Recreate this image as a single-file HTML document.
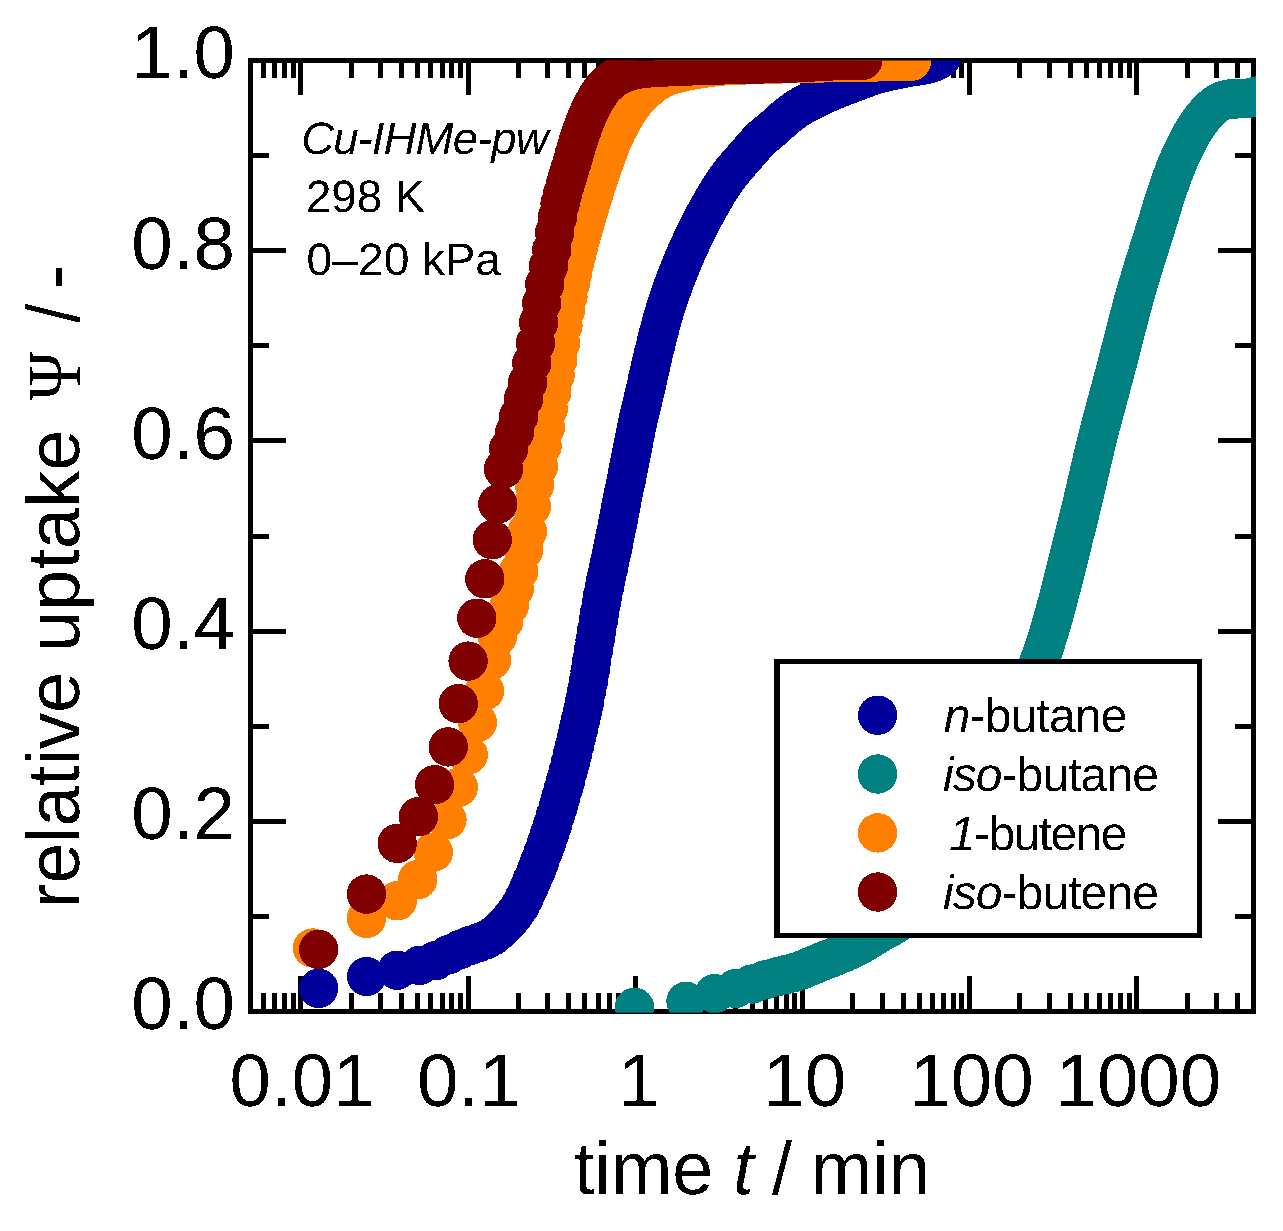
<!DOCTYPE html>
<html lang="en"><head><meta charset="utf-8"><title>Relative uptake vs time</title>
<style>html,body{margin:0;padding:0;background:#fff}svg{display:block}</style></head>
<body>
<svg width="1283" height="1231" viewBox="0 0 1283 1231" font-family="'Liberation Sans',Arial,sans-serif" fill="#000" shape-rendering="crispEdges" text-rendering="geometricPrecision">
<rect x="0" y="0" width="1283" height="1231" fill="#fff"/>
<rect x="250.50" y="60.50" width="1003.10" height="951.00" fill="none" stroke="#000" stroke-width="5.0"/>
<path d="M263.74,1011.50v-18.50 M263.74,60.50v17.30 M274.93,1011.50v-18.50 M274.93,60.50v17.30 M284.63,1011.50v-18.50 M284.63,60.50v17.30 M293.18,1011.50v-18.50 M293.18,60.50v17.30 M300.83,1011.50v-35.50 M300.83,60.50v34.40 M351.15,1011.50v-18.50 M351.15,60.50v17.30 M380.59,1011.50v-18.50 M380.59,60.50v17.30 M401.48,1011.50v-18.50 M401.48,60.50v17.30 M417.68,1011.50v-18.50 M417.68,60.50v17.30 M430.92,1011.50v-18.50 M430.92,60.50v17.30 M442.11,1011.50v-18.50 M442.11,60.50v17.30 M451.81,1011.50v-18.50 M451.81,60.50v17.30 M460.36,1011.50v-18.50 M460.36,60.50v17.30 M468.01,1011.50v-35.50 M468.01,60.50v34.40 M518.34,1011.50v-18.50 M518.34,60.50v17.30 M547.78,1011.50v-18.50 M547.78,60.50v17.30 M568.66,1011.50v-18.50 M568.66,60.50v17.30 M584.87,1011.50v-18.50 M584.87,60.50v17.30 M598.10,1011.50v-18.50 M598.10,60.50v17.30 M609.30,1011.50v-18.50 M609.30,60.50v17.30 M618.99,1011.50v-18.50 M618.99,60.50v17.30 M627.54,1011.50v-18.50 M627.54,60.50v17.30 M635.19,1011.50v-35.50 M635.19,60.50v34.40 M685.52,1011.50v-18.50 M685.52,60.50v17.30 M714.96,1011.50v-18.50 M714.96,60.50v17.30 M735.85,1011.50v-18.50 M735.85,60.50v17.30 M752.05,1011.50v-18.50 M752.05,60.50v17.30 M765.29,1011.50v-18.50 M765.29,60.50v17.30 M776.48,1011.50v-18.50 M776.48,60.50v17.30 M786.18,1011.50v-18.50 M786.18,60.50v17.30 M794.73,1011.50v-18.50 M794.73,60.50v17.30 M802.38,1011.50v-35.50 M802.38,60.50v34.40 M852.70,1011.50v-18.50 M852.70,60.50v17.30 M882.14,1011.50v-18.50 M882.14,60.50v17.30 M903.03,1011.50v-18.50 M903.03,60.50v17.30 M919.23,1011.50v-18.50 M919.23,60.50v17.30 M932.47,1011.50v-18.50 M932.47,60.50v17.30 M943.66,1011.50v-18.50 M943.66,60.50v17.30 M953.36,1011.50v-18.50 M953.36,60.50v17.30 M961.91,1011.50v-18.50 M961.91,60.50v17.30 M969.56,1011.50v-35.50 M969.56,60.50v34.40 M1019.89,1011.50v-18.50 M1019.89,60.50v17.30 M1049.33,1011.50v-18.50 M1049.33,60.50v17.30 M1070.21,1011.50v-18.50 M1070.21,60.50v17.30 M1086.42,1011.50v-18.50 M1086.42,60.50v17.30 M1099.65,1011.50v-18.50 M1099.65,60.50v17.30 M1110.85,1011.50v-18.50 M1110.85,60.50v17.30 M1120.54,1011.50v-18.50 M1120.54,60.50v17.30 M1129.09,1011.50v-18.50 M1129.09,60.50v17.30 M1136.74,1011.50v-35.50 M1136.74,60.50v34.40 M1187.07,1011.50v-18.50 M1187.07,60.50v17.30 M1216.51,1011.50v-18.50 M1216.51,60.50v17.30 M1237.40,1011.50v-18.50 M1237.40,60.50v17.30 M250.50,916.40h18.50 M1253.60,916.40h-18.50 M250.50,821.30h35.30 M1253.60,821.30h-35.30 M250.50,726.20h18.50 M1253.60,726.20h-18.50 M250.50,631.10h35.30 M1253.60,631.10h-35.30 M250.50,536.00h18.50 M1253.60,536.00h-18.50 M250.50,440.90h35.30 M1253.60,440.90h-35.30 M250.50,345.80h18.50 M1253.60,345.80h-18.50 M250.50,250.70h35.30 M1253.60,250.70h-35.30 M250.50,155.60h18.50 M1253.60,155.60h-18.50" stroke="#000" stroke-width="5.0" fill="none"/>
<clipPath id="c"><rect x="250.5" y="60.5" width="1005.5" height="952.3"/></clipPath>
<g clip-path="url(#c)">
<g fill="#00009c">
<circle cx="318.6" cy="988.3" r="19.7"/>
<circle cx="366.5" cy="976.5" r="19.7"/>
<circle cx="397.2" cy="970.2" r="19.7"/>
<circle cx="419.4" cy="965.5" r="19.7"/>
<circle cx="435.6" cy="960.7" r="19.7"/>
<circle cx="448.8" cy="954.6" r="19.7"/>
<circle cx="460.0" cy="949.5" r="19.7"/>
<circle cx="469.7" cy="945.6" r="19.7"/>
<circle cx="478.3" cy="942.7" r="19.7"/>
<circle cx="485.9" cy="939.8" r="19.7"/>
<circle cx="492.9" cy="935.9" r="19.7"/>
<circle cx="499.2" cy="930.7" r="19.7"/>
<circle cx="505.0" cy="924.9" r="19.7"/>
<circle cx="510.4" cy="919.2" r="19.7"/>
<circle cx="515.4" cy="912.9" r="19.7"/>
<circle cx="520.1" cy="905.8" r="19.7"/>
<circle cx="524.5" cy="897.4" r="19.7"/>
<circle cx="528.6" cy="888.4" r="19.7"/>
<circle cx="532.5" cy="879.4" r="19.7"/>
<circle cx="536.3" cy="870.4" r="19.7"/>
<circle cx="539.8" cy="861.3" r="19.7"/>
<circle cx="543.2" cy="852.2" r="19.7"/>
<circle cx="546.4" cy="843.2" r="19.7"/>
<circle cx="549.5" cy="834.0" r="19.7"/>
<circle cx="552.5" cy="824.8" r="19.7"/>
<circle cx="555.3" cy="815.7" r="19.7"/>
<circle cx="558.1" cy="806.8" r="19.7"/>
<circle cx="560.7" cy="797.9" r="19.7"/>
<circle cx="563.2" cy="789.1" r="19.7"/>
<circle cx="565.7" cy="780.3" r="19.7"/>
<circle cx="568.1" cy="771.5" r="19.7"/>
<circle cx="570.4" cy="762.7" r="19.7"/>
<circle cx="572.6" cy="753.8" r="19.7"/>
<circle cx="574.8" cy="745.0" r="19.7"/>
<circle cx="576.9" cy="736.2" r="19.7"/>
<circle cx="578.9" cy="727.4" r="19.7"/>
<circle cx="580.9" cy="718.7" r="19.7"/>
<circle cx="582.9" cy="709.9" r="19.7"/>
<circle cx="584.8" cy="700.7" r="19.7"/>
<circle cx="586.6" cy="691.2" r="19.7"/>
<circle cx="588.4" cy="681.2" r="19.7"/>
<circle cx="590.1" cy="671.0" r="19.7"/>
<circle cx="591.8" cy="660.6" r="19.7"/>
<circle cx="593.5" cy="650.3" r="19.7"/>
<circle cx="595.1" cy="640.2" r="19.7"/>
<circle cx="596.7" cy="630.3" r="19.7"/>
<circle cx="598.3" cy="620.8" r="19.7"/>
<circle cx="599.8" cy="611.8" r="19.7"/>
<circle cx="601.3" cy="603.2" r="19.7"/>
<circle cx="602.8" cy="595.2" r="19.7"/>
<circle cx="604.2" cy="587.8" r="19.7"/>
<circle cx="605.6" cy="580.8" r="19.7"/>
<circle cx="607.0" cy="574.3" r="19.7"/>
<circle cx="608.4" cy="568.0" r="19.7"/>
<circle cx="609.7" cy="561.9" r="19.7"/>
<circle cx="611.0" cy="555.8" r="19.7"/>
<circle cx="612.3" cy="549.8" r="19.7"/>
<circle cx="613.6" cy="543.7" r="19.7"/>
<circle cx="614.8" cy="537.5" r="19.7"/>
<circle cx="616.0" cy="531.4" r="19.7"/>
<circle cx="617.2" cy="525.3" r="19.7"/>
<circle cx="618.4" cy="519.3" r="19.7"/>
<circle cx="619.6" cy="513.3" r="19.7"/>
<circle cx="620.7" cy="507.4" r="19.7"/>
<circle cx="621.8" cy="501.7" r="19.7"/>
<circle cx="622.9" cy="496.1" r="19.7"/>
<circle cx="624.0" cy="490.6" r="19.7"/>
<circle cx="625.1" cy="485.1" r="19.7"/>
<circle cx="626.2" cy="479.7" r="19.7"/>
<circle cx="627.2" cy="474.4" r="19.7"/>
<circle cx="628.3" cy="469.1" r="19.7"/>
<circle cx="629.3" cy="463.9" r="19.7"/>
<circle cx="630.3" cy="458.8" r="19.7"/>
<circle cx="631.3" cy="453.8" r="19.7"/>
<circle cx="632.2" cy="448.8" r="19.7"/>
<circle cx="633.2" cy="444.0" r="19.7"/>
<circle cx="634.1" cy="439.3" r="19.7"/>
<circle cx="635.1" cy="434.7" r="19.7"/>
<circle cx="636.0" cy="430.2" r="19.7"/>
<circle cx="636.9" cy="425.9" r="19.7"/>
<circle cx="637.8" cy="421.7" r="19.7"/>
<circle cx="638.7" cy="417.6" r="19.7"/>
<circle cx="639.6" cy="413.7" r="19.7"/>
<circle cx="640.5" cy="410.0" r="19.7"/>
<circle cx="641.3" cy="406.5" r="19.7"/>
<circle cx="642.2" cy="403.1" r="19.7"/>
<circle cx="643.0" cy="399.7" r="19.7"/>
<circle cx="643.8" cy="396.3" r="19.7"/>
<circle cx="644.7" cy="392.8" r="19.7"/>
<circle cx="645.5" cy="389.3" r="19.7"/>
<circle cx="646.3" cy="385.6" r="19.7"/>
<circle cx="647.1" cy="382.0" r="19.7"/>
<circle cx="647.8" cy="378.4" r="19.7"/>
<circle cx="648.6" cy="374.8" r="19.7"/>
<circle cx="649.4" cy="371.2" r="19.7"/>
<circle cx="650.2" cy="367.8" r="19.7"/>
<circle cx="650.9" cy="364.5" r="19.7"/>
<circle cx="651.7" cy="361.4" r="19.7"/>
<circle cx="652.4" cy="358.3" r="19.7"/>
<circle cx="653.1" cy="355.2" r="19.7"/>
<circle cx="653.8" cy="352.2" r="19.7"/>
<circle cx="654.6" cy="349.3" r="19.7"/>
<circle cx="655.3" cy="346.4" r="19.7"/>
<circle cx="656.0" cy="343.5" r="19.7"/>
<circle cx="656.7" cy="340.7" r="19.7"/>
<circle cx="657.3" cy="338.0" r="19.7"/>
<circle cx="658.0" cy="335.3" r="19.7"/>
<circle cx="658.7" cy="332.6" r="19.7"/>
<circle cx="659.4" cy="330.0" r="19.7"/>
<circle cx="660.0" cy="327.5" r="19.7"/>
<circle cx="660.7" cy="325.0" r="19.7"/>
<circle cx="661.3" cy="322.6" r="19.7"/>
<circle cx="662.0" cy="320.3" r="19.7"/>
<circle cx="662.6" cy="318.0" r="19.7"/>
<circle cx="663.3" cy="315.8" r="19.7"/>
<circle cx="663.9" cy="313.7" r="19.7"/>
<circle cx="664.5" cy="311.6" r="19.7"/>
<circle cx="665.1" cy="309.6" r="19.7"/>
<circle cx="665.7" cy="307.6" r="19.7"/>
<circle cx="666.4" cy="305.7" r="19.7"/>
<circle cx="667.0" cy="303.8" r="19.7"/>
<circle cx="667.6" cy="301.9" r="19.7"/>
<circle cx="668.1" cy="300.1" r="19.7"/>
<circle cx="668.7" cy="298.4" r="19.7"/>
<circle cx="669.3" cy="296.6" r="19.7"/>
<circle cx="669.9" cy="294.9" r="19.7"/>
<circle cx="670.5" cy="293.3" r="19.7"/>
<circle cx="671.0" cy="291.6" r="19.7"/>
<circle cx="671.6" cy="290.0" r="19.7"/>
<circle cx="672.2" cy="288.4" r="19.7"/>
<circle cx="672.7" cy="286.9" r="19.7"/>
<circle cx="673.3" cy="285.4" r="19.7"/>
<circle cx="673.8" cy="283.9" r="19.7"/>
<circle cx="674.4" cy="282.4" r="19.7"/>
<circle cx="674.9" cy="281.0" r="19.7"/>
<circle cx="675.4" cy="279.5" r="19.7"/>
<circle cx="676.0" cy="278.1" r="19.7"/>
<circle cx="676.5" cy="276.7" r="19.7"/>
<circle cx="677.0" cy="275.4" r="19.7"/>
<circle cx="677.5" cy="274.1" r="19.7"/>
<circle cx="678.1" cy="272.7" r="19.7"/>
<circle cx="678.6" cy="271.4" r="19.7"/>
<circle cx="679.1" cy="270.2" r="19.7"/>
<circle cx="679.6" cy="268.9" r="19.7"/>
<circle cx="680.1" cy="267.7" r="19.7"/>
<circle cx="680.6" cy="266.4" r="19.7"/>
<circle cx="681.1" cy="265.2" r="19.7"/>
<circle cx="681.6" cy="264.0" r="19.7"/>
<circle cx="682.1" cy="262.8" r="19.7"/>
<circle cx="682.6" cy="261.7" r="19.7"/>
<circle cx="683.0" cy="260.5" r="19.7"/>
<circle cx="683.5" cy="259.4" r="19.7"/>
<circle cx="684.0" cy="258.2" r="19.7"/>
<circle cx="684.5" cy="257.1" r="19.7"/>
<path d="M684.5,257.1 685.5,254.8 686.5,252.5 688.5,248.0 690.5,243.6 692.5,239.3 694.5,235.1 696.5,231.0 698.5,227.0 700.5,223.1 702.5,219.3 704.5,215.5 706.5,211.8 708.5,208.2 710.5,204.6 712.5,201.0 714.5,197.6 716.5,194.2 718.5,190.9 720.5,187.7 722.5,184.6 724.5,181.7 726.5,178.8 728.5,176.1 730.5,173.5 732.5,171.0 734.5,168.6 736.5,166.2 738.5,163.9 740.5,161.6 742.5,159.3 744.5,157.1 746.5,154.8 748.5,152.5 750.5,150.2 752.5,147.9 754.5,145.6 756.5,143.3 758.5,141.1 760.5,139.1 762.5,137.3 764.5,135.5 766.5,133.9 768.5,132.3 770.5,130.7 772.5,129.0 774.5,127.3 776.5,125.4 778.5,123.6 780.5,121.7 782.5,119.9 784.5,118.2 786.5,116.6 788.5,115.0 790.5,113.4 792.5,111.9 795.5,109.8 798.5,107.8 801.5,106.0 804.5,104.2 807.5,102.6 810.5,101.0 813.5,99.5 816.5,98.1 819.5,96.6 822.5,95.3 825.5,93.9 828.5,92.6 831.5,91.3 834.5,90.0 837.5,88.8 840.5,87.6 843.5,86.4 846.5,85.3 849.5,84.1 852.5,83.0 855.5,81.9 858.5,80.7 861.5,79.6 864.5,78.5 867.5,77.4 870.5,76.4 873.5,75.4 876.5,74.4 879.5,73.6 882.5,72.8 885.5,72.1 888.5,71.4 891.5,70.7 894.5,70.1 897.5,69.5 900.5,68.9 903.5,68.3 906.5,67.7 909.5,67.2 912.5,66.7 915.5,66.2 918.5,65.8 921.5,65.3 924.5,64.8 927.5,64.2 930.5,63.4 933.5,62.3 936.5,60.8 939.5,59.1 941.3,58.0" fill="none" stroke="#00009c" stroke-width="39.4" stroke-linecap="round" stroke-linejoin="round"/>
</g>
<g fill="#008080">
<circle cx="634.5" cy="1007.3" r="19.7"/>
<circle cx="686.0" cy="1001.3" r="19.7"/>
<circle cx="714.7" cy="993.6" r="19.7"/>
<circle cx="735.8" cy="988.4" r="19.7"/>
<circle cx="752.0" cy="984.0" r="19.7"/>
<circle cx="765.3" cy="979.9" r="19.7"/>
<circle cx="776.5" cy="976.9" r="19.7"/>
<circle cx="786.2" cy="974.5" r="19.7"/>
<circle cx="794.7" cy="972.2" r="19.7"/>
<circle cx="802.4" cy="969.7" r="19.7"/>
<circle cx="809.3" cy="966.9" r="19.7"/>
<circle cx="815.6" cy="964.2" r="19.7"/>
<circle cx="821.4" cy="961.8" r="19.7"/>
<circle cx="826.8" cy="959.7" r="19.7"/>
<circle cx="831.8" cy="957.8" r="19.7"/>
<circle cx="836.5" cy="955.9" r="19.7"/>
<circle cx="840.9" cy="954.0" r="19.7"/>
<circle cx="845.1" cy="952.3" r="19.7"/>
<circle cx="849.0" cy="950.6" r="19.7"/>
<circle cx="852.7" cy="948.9" r="19.7"/>
<circle cx="856.2" cy="947.1" r="19.7"/>
<circle cx="859.6" cy="945.3" r="19.7"/>
<circle cx="862.9" cy="943.4" r="19.7"/>
<circle cx="865.9" cy="941.5" r="19.7"/>
<circle cx="868.9" cy="939.7" r="19.7"/>
<circle cx="871.8" cy="937.9" r="19.7"/>
<circle cx="874.5" cy="936.2" r="19.7"/>
<circle cx="877.1" cy="934.5" r="19.7"/>
<circle cx="879.7" cy="933.0" r="19.7"/>
<circle cx="882.1" cy="931.6" r="19.7"/>
<circle cx="884.5" cy="930.3" r="19.7"/>
<circle cx="886.8" cy="929.0" r="19.7"/>
<circle cx="889.1" cy="927.9" r="19.7"/>
<circle cx="891.2" cy="926.7" r="19.7"/>
<circle cx="893.3" cy="925.4" r="19.7"/>
<circle cx="895.4" cy="924.1" r="19.7"/>
<circle cx="897.4" cy="922.8" r="19.7"/>
<circle cx="899.3" cy="921.3" r="19.7"/>
<circle cx="901.2" cy="919.8" r="19.7"/>
<circle cx="903.0" cy="918.3" r="19.7"/>
<circle cx="904.8" cy="916.7" r="19.7"/>
<circle cx="906.6" cy="915.1" r="19.7"/>
<circle cx="908.3" cy="913.5" r="19.7"/>
<circle cx="910.0" cy="911.8" r="19.7"/>
<circle cx="911.6" cy="910.2" r="19.7"/>
<circle cx="913.2" cy="908.5" r="19.7"/>
<circle cx="914.7" cy="906.9" r="19.7"/>
<circle cx="916.3" cy="905.2" r="19.7"/>
<circle cx="917.8" cy="903.5" r="19.7"/>
<circle cx="919.2" cy="901.8" r="19.7"/>
<circle cx="920.7" cy="900.1" r="19.7"/>
<circle cx="922.1" cy="898.5" r="19.7"/>
<circle cx="923.5" cy="896.8" r="19.7"/>
<circle cx="924.8" cy="895.1" r="19.7"/>
<circle cx="926.2" cy="893.4" r="19.7"/>
<circle cx="927.5" cy="891.7" r="19.7"/>
<circle cx="928.7" cy="890.0" r="19.7"/>
<circle cx="930.0" cy="888.3" r="19.7"/>
<circle cx="931.3" cy="886.6" r="19.7"/>
<circle cx="932.5" cy="884.9" r="19.7"/>
<circle cx="933.7" cy="883.3" r="19.7"/>
<circle cx="934.9" cy="881.6" r="19.7"/>
<circle cx="936.0" cy="879.9" r="19.7"/>
<circle cx="937.2" cy="878.3" r="19.7"/>
<circle cx="938.3" cy="876.6" r="19.7"/>
<circle cx="939.4" cy="874.9" r="19.7"/>
<circle cx="940.5" cy="873.3" r="19.7"/>
<circle cx="941.6" cy="871.7" r="19.7"/>
<circle cx="942.6" cy="870.0" r="19.7"/>
<circle cx="943.7" cy="868.4" r="19.7"/>
<circle cx="944.7" cy="866.8" r="19.7"/>
<circle cx="945.7" cy="865.2" r="19.7"/>
<circle cx="946.7" cy="863.5" r="19.7"/>
<circle cx="947.7" cy="861.9" r="19.7"/>
<circle cx="948.7" cy="860.4" r="19.7"/>
<circle cx="949.6" cy="858.8" r="19.7"/>
<circle cx="950.6" cy="857.2" r="19.7"/>
<circle cx="951.5" cy="855.6" r="19.7"/>
<circle cx="952.4" cy="854.0" r="19.7"/>
<circle cx="953.4" cy="852.5" r="19.7"/>
<circle cx="954.3" cy="850.9" r="19.7"/>
<circle cx="955.2" cy="849.4" r="19.7"/>
<circle cx="956.0" cy="847.9" r="19.7"/>
<circle cx="956.9" cy="846.3" r="19.7"/>
<circle cx="957.8" cy="844.8" r="19.7"/>
<circle cx="958.6" cy="843.3" r="19.7"/>
<circle cx="959.4" cy="841.8" r="19.7"/>
<circle cx="960.3" cy="840.3" r="19.7"/>
<circle cx="961.1" cy="838.8" r="19.7"/>
<circle cx="961.9" cy="837.3" r="19.7"/>
<circle cx="962.7" cy="835.8" r="19.7"/>
<circle cx="963.5" cy="834.4" r="19.7"/>
<circle cx="964.3" cy="832.9" r="19.7"/>
<circle cx="965.1" cy="831.5" r="19.7"/>
<circle cx="965.8" cy="830.0" r="19.7"/>
<circle cx="966.6" cy="828.6" r="19.7"/>
<circle cx="967.3" cy="827.1" r="19.7"/>
<circle cx="968.1" cy="825.7" r="19.7"/>
<circle cx="968.8" cy="824.3" r="19.7"/>
<circle cx="969.6" cy="822.9" r="19.7"/>
<circle cx="970.3" cy="821.5" r="19.7"/>
<circle cx="971.0" cy="820.1" r="19.7"/>
<circle cx="971.7" cy="818.7" r="19.7"/>
<circle cx="972.4" cy="817.3" r="19.7"/>
<circle cx="973.1" cy="815.9" r="19.7"/>
<circle cx="973.8" cy="814.6" r="19.7"/>
<circle cx="974.5" cy="813.2" r="19.7"/>
<circle cx="975.1" cy="811.9" r="19.7"/>
<circle cx="975.8" cy="810.5" r="19.7"/>
<circle cx="976.5" cy="809.2" r="19.7"/>
<circle cx="977.1" cy="807.8" r="19.7"/>
<circle cx="977.8" cy="806.5" r="19.7"/>
<circle cx="978.4" cy="805.2" r="19.7"/>
<circle cx="979.1" cy="803.9" r="19.7"/>
<circle cx="979.7" cy="802.6" r="19.7"/>
<circle cx="980.3" cy="801.3" r="19.7"/>
<circle cx="981.0" cy="800.0" r="19.7"/>
<circle cx="981.6" cy="798.7" r="19.7"/>
<circle cx="982.2" cy="797.4" r="19.7"/>
<circle cx="982.8" cy="796.1" r="19.7"/>
<circle cx="983.4" cy="794.9" r="19.7"/>
<circle cx="984.0" cy="793.6" r="19.7"/>
<circle cx="984.6" cy="792.3" r="19.7"/>
<circle cx="985.2" cy="791.1" r="19.7"/>
<circle cx="985.8" cy="789.8" r="19.7"/>
<circle cx="986.3" cy="788.6" r="19.7"/>
<circle cx="986.9" cy="787.4" r="19.7"/>
<circle cx="987.5" cy="786.1" r="19.7"/>
<circle cx="988.0" cy="784.9" r="19.7"/>
<circle cx="988.6" cy="783.7" r="19.7"/>
<circle cx="989.2" cy="782.5" r="19.7"/>
<circle cx="989.7" cy="781.3" r="19.7"/>
<circle cx="990.3" cy="780.1" r="19.7"/>
<circle cx="990.8" cy="778.9" r="19.7"/>
<circle cx="991.4" cy="777.7" r="19.7"/>
<circle cx="991.9" cy="776.5" r="19.7"/>
<circle cx="992.4" cy="775.4" r="19.7"/>
<circle cx="992.9" cy="774.2" r="19.7"/>
<circle cx="993.5" cy="773.0" r="19.7"/>
<circle cx="994.0" cy="771.9" r="19.7"/>
<circle cx="994.5" cy="770.7" r="19.7"/>
<circle cx="995.0" cy="769.6" r="19.7"/>
<circle cx="995.5" cy="768.4" r="19.7"/>
<circle cx="996.0" cy="767.3" r="19.7"/>
<circle cx="996.5" cy="766.1" r="19.7"/>
<circle cx="997.0" cy="765.0" r="19.7"/>
<circle cx="997.5" cy="763.9" r="19.7"/>
<circle cx="998.0" cy="762.8" r="19.7"/>
<circle cx="998.5" cy="761.7" r="19.7"/>
<circle cx="999.0" cy="760.6" r="19.7"/>
<circle cx="999.5" cy="759.4" r="19.7"/>
<path d="M999.5,759.4 1000.5,757.2 1001.5,754.8 1002.5,752.5 1003.5,750.2 1004.5,747.9 1005.5,745.5 1006.5,743.2 1007.5,740.8 1008.5,738.4 1009.5,736.0 1010.5,733.7 1011.5,731.2 1012.5,728.8 1013.5,726.4 1014.5,724.0 1015.5,721.5 1016.5,719.1 1017.5,716.6 1018.5,714.2 1019.5,711.7 1020.5,709.2 1021.5,706.7 1022.5,704.2 1023.5,701.7 1024.5,699.2 1025.5,696.7 1026.5,694.1 1027.5,691.6 1028.5,689.0 1029.5,686.5 1030.5,683.9 1031.5,681.3 1032.5,678.8 1033.5,676.2 1034.5,673.6 1035.5,671.0 1036.5,668.4 1037.5,665.7 1038.5,663.1 1039.5,660.5 1040.5,657.9 1041.5,655.1 1042.5,652.3 1043.5,649.5 1044.5,646.5 1045.5,643.4 1046.5,640.3 1047.5,637.1 1048.5,633.9 1049.5,630.5 1050.5,627.1 1051.5,623.7 1052.5,620.2 1053.5,616.6 1054.5,613.0 1055.5,609.3 1056.5,605.6 1057.5,601.8 1058.5,598.0 1059.5,594.2 1060.5,590.3 1061.5,586.4 1062.5,582.5 1063.5,578.5 1064.5,574.6 1065.5,570.6 1066.5,566.6 1067.5,562.6 1068.5,558.5 1069.5,554.5 1070.5,550.5 1071.5,546.4 1072.5,542.4 1073.5,538.3 1074.5,534.3 1075.5,530.3 1076.5,526.3 1077.5,522.3 1078.5,518.4 1079.5,514.4 1080.5,510.3 1081.5,506.1 1082.5,501.9 1083.5,497.7 1084.5,493.4 1085.5,489.1 1086.5,484.7 1087.5,480.4 1088.5,476.0 1089.5,471.7 1090.5,467.3 1091.5,463.0 1092.5,458.7 1093.5,454.5 1094.5,450.3 1095.5,446.2 1096.5,442.1 1097.5,438.1 1098.5,434.1 1099.5,430.2 1100.5,426.3 1101.5,422.5 1102.5,418.7 1103.5,414.9 1104.5,411.1 1105.5,407.4 1106.5,403.6 1107.5,399.9 1108.5,396.2 1109.5,392.5 1110.5,388.8 1111.5,385.0 1112.5,381.3 1113.5,377.6 1114.5,373.8 1115.5,370.1 1116.5,366.3 1117.5,362.4 1118.5,358.6 1119.5,354.7 1120.5,350.8 1121.5,346.9 1122.5,343.0 1123.5,339.0 1124.5,335.1 1125.5,331.2 1126.5,327.3 1127.5,323.4 1128.5,319.5 1129.5,315.7 1130.5,311.9 1131.5,308.1 1132.5,304.4 1133.5,300.7 1134.5,297.1 1135.5,293.5 1136.5,290.0 1137.5,286.6 1138.5,283.1 1139.5,279.8 1140.5,276.4 1141.5,273.1 1142.5,269.8 1143.5,266.6 1144.5,263.3 1145.5,260.1 1146.5,256.9 1147.5,253.8 1148.5,250.6 1149.5,247.4 1150.5,244.3 1151.5,241.1 1152.5,238.0 1153.5,234.8 1154.5,231.6 1155.5,228.4 1156.5,225.2 1157.5,222.0 1158.5,218.8 1159.5,215.5 1160.5,212.1 1161.5,208.8 1162.5,205.5 1163.5,202.2 1164.5,199.0 1165.5,195.9 1166.5,193.0 1167.5,190.0 1168.5,187.1 1169.5,184.3 1170.5,181.4 1171.5,178.6 1172.5,175.9 1173.5,173.2 1174.5,170.6 1175.5,168.0 1176.5,165.5 1177.5,163.1 1178.5,160.7 1180.5,156.2 1182.5,151.8 1184.5,147.6 1186.5,143.6 1188.5,139.7 1190.5,136.0 1192.5,132.5 1194.5,129.3 1196.5,126.3 1198.5,123.4 1200.5,120.6 1202.5,118.0 1204.5,115.5 1206.5,113.2 1208.5,111.1 1210.5,109.2 1212.5,107.3 1214.5,105.6 1216.5,104.0 1219.5,102.2 1222.5,100.9 1225.5,99.9 1228.5,99.2 1231.5,98.9 1234.5,98.8 1237.5,98.8 1240.5,98.7 1243.5,98.6 1246.5,98.5 1249.5,97.9 1252.5,97.2 1255.5,96.5 1258.5,95.9 1261.5,95.3 1262.0,95.2" fill="none" stroke="#008080" stroke-width="39.4" stroke-linecap="round" stroke-linejoin="round"/>
</g>
<g fill="#ff8000">
<circle cx="312.6" cy="948.0" r="19.7"/>
<circle cx="366.5" cy="918.3" r="19.7"/>
<circle cx="397.2" cy="900.8" r="19.7"/>
<circle cx="417.6" cy="879.6" r="19.7"/>
<circle cx="433.3" cy="852.2" r="19.7"/>
<circle cx="447.0" cy="819.7" r="19.7"/>
<circle cx="458.3" cy="787.3" r="19.7"/>
<circle cx="468.3" cy="754.9" r="19.7"/>
<circle cx="477.5" cy="722.4" r="19.7"/>
<circle cx="484.5" cy="691.0" r="19.7"/>
<circle cx="491.5" cy="660.1" r="19.7"/>
<circle cx="497.4" cy="636.3" r="19.7"/>
<circle cx="503.7" cy="621.3" r="19.7"/>
<circle cx="509.6" cy="605.0" r="19.7"/>
<circle cx="514.3" cy="588.8" r="19.7"/>
<circle cx="518.7" cy="571.3" r="19.7"/>
<circle cx="523.7" cy="550.0" r="19.7"/>
<circle cx="527.4" cy="531.4" r="19.7"/>
<circle cx="531.4" cy="506.3" r="19.7"/>
<circle cx="534.6" cy="485.1" r="19.7"/>
<circle cx="538.4" cy="466.3" r="19.7"/>
<circle cx="542.1" cy="446.3" r="19.7"/>
<circle cx="545.3" cy="427.5" r="19.7"/>
<circle cx="548.3" cy="408.8" r="19.7"/>
<circle cx="551.6" cy="392.5" r="19.7"/>
<circle cx="555.1" cy="375.0" r="19.7"/>
<circle cx="557.8" cy="360.0" r="19.7"/>
<circle cx="560.5" cy="342.9" r="19.7"/>
<circle cx="563.0" cy="325.5" r="19.7"/>
<circle cx="565.5" cy="309.9" r="19.7"/>
<circle cx="567.9" cy="296.6" r="19.7"/>
<circle cx="570.2" cy="284.3" r="19.7"/>
<circle cx="572.4" cy="273.2" r="19.7"/>
<circle cx="574.6" cy="263.2" r="19.7"/>
<circle cx="576.7" cy="254.3" r="19.7"/>
<circle cx="578.8" cy="246.1" r="19.7"/>
<circle cx="580.8" cy="238.5" r="19.7"/>
<circle cx="582.7" cy="231.4" r="19.7"/>
<circle cx="584.6" cy="224.7" r="19.7"/>
<circle cx="586.4" cy="218.3" r="19.7"/>
<circle cx="588.2" cy="212.2" r="19.7"/>
<circle cx="590.0" cy="206.2" r="19.7"/>
<circle cx="591.7" cy="200.5" r="19.7"/>
<circle cx="593.4" cy="195.1" r="19.7"/>
<circle cx="595.0" cy="189.9" r="19.7"/>
<circle cx="596.6" cy="184.9" r="19.7"/>
<circle cx="598.2" cy="180.1" r="19.7"/>
<circle cx="599.7" cy="175.6" r="19.7"/>
<circle cx="601.2" cy="171.3" r="19.7"/>
<circle cx="602.7" cy="167.0" r="19.7"/>
<circle cx="604.1" cy="162.8" r="19.7"/>
<circle cx="605.5" cy="158.8" r="19.7"/>
<circle cx="606.9" cy="154.9" r="19.7"/>
<circle cx="608.3" cy="151.2" r="19.7"/>
<circle cx="609.6" cy="147.6" r="19.7"/>
<circle cx="610.9" cy="144.3" r="19.7"/>
<circle cx="612.2" cy="141.1" r="19.7"/>
<circle cx="613.5" cy="138.2" r="19.7"/>
<circle cx="614.7" cy="135.4" r="19.7"/>
<circle cx="615.9" cy="132.9" r="19.7"/>
<circle cx="617.1" cy="130.5" r="19.7"/>
<circle cx="618.3" cy="128.2" r="19.7"/>
<circle cx="619.5" cy="126.0" r="19.7"/>
<circle cx="620.6" cy="123.8" r="19.7"/>
<circle cx="621.8" cy="121.8" r="19.7"/>
<circle cx="622.9" cy="119.8" r="19.7"/>
<circle cx="624.0" cy="117.8" r="19.7"/>
<circle cx="625.0" cy="116.0" r="19.7"/>
<circle cx="626.1" cy="114.2" r="19.7"/>
<circle cx="627.1" cy="112.5" r="19.7"/>
<circle cx="628.2" cy="110.9" r="19.7"/>
<circle cx="629.2" cy="109.3" r="19.7"/>
<circle cx="630.2" cy="107.8" r="19.7"/>
<circle cx="631.2" cy="106.3" r="19.7"/>
<circle cx="632.2" cy="105.0" r="19.7"/>
<circle cx="633.1" cy="103.7" r="19.7"/>
<circle cx="634.1" cy="102.4" r="19.7"/>
<circle cx="635.0" cy="101.3" r="19.7"/>
<circle cx="635.9" cy="100.1" r="19.7"/>
<circle cx="636.8" cy="99.1" r="19.7"/>
<circle cx="637.7" cy="98.1" r="19.7"/>
<circle cx="638.6" cy="97.2" r="19.7"/>
<circle cx="639.5" cy="96.3" r="19.7"/>
<circle cx="640.4" cy="95.4" r="19.7"/>
<circle cx="641.3" cy="94.5" r="19.7"/>
<path d="M641.3,94.5 643.3,92.6 645.3,90.7 647.3,88.9 649.3,87.2 651.3,85.6 653.3,84.0 656.3,81.9 659.3,80.1 662.3,78.5 665.3,77.2 668.3,76.1 671.3,75.1 674.3,74.1 677.3,73.3 680.3,72.5 683.3,71.8 686.3,71.1 689.3,70.5 692.3,70.0 695.3,69.5 698.3,69.0 701.3,68.5 704.3,68.1 707.3,67.7 710.3,67.3 713.3,66.9 716.3,66.6 719.3,66.3 722.3,66.0 725.3,65.7 728.3,65.5 731.3,65.4 734.3,65.2 737.3,65.1 740.3,65.0 743.3,64.9 746.3,64.8 749.3,64.7 752.3,64.7 755.3,64.6 758.3,64.5 761.3,64.4 764.3,64.3 767.3,64.3 770.3,64.2 773.3,64.1 776.3,64.0 779.3,63.9 782.3,63.8 785.3,63.7 788.3,63.6 791.3,63.5 794.3,63.4 797.3,63.3 800.3,63.2 803.3,63.2 806.3,63.1 809.3,63.1 812.3,63.0 815.3,62.9 818.3,62.9 821.3,62.8 824.3,62.8 827.3,62.7 830.3,62.7 833.3,62.6 836.3,62.5 839.3,62.5 842.3,62.4 845.3,62.4 848.3,62.3 851.3,62.3 854.3,62.2 857.3,62.2 860.3,62.1 863.3,62.1 866.3,62.0 869.3,61.9 872.3,61.9 875.3,61.8 878.3,61.8 881.3,61.7 884.3,61.7 887.3,61.6 890.3,61.6 893.3,61.5 896.3,61.5 899.3,61.4 902.3,61.4 905.3,61.3 908.3,61.3 911.3,61.2 911.4,61.2" fill="none" stroke="#ff8000" stroke-width="39.4" stroke-linecap="round" stroke-linejoin="round"/>
</g>
<g fill="#800000">
<circle cx="318.6" cy="949.4" r="19.7"/>
<circle cx="366.5" cy="894.1" r="19.7"/>
<circle cx="397.2" cy="843.4" r="19.7"/>
<circle cx="418.4" cy="816.7" r="19.7"/>
<circle cx="434.6" cy="784.8" r="19.7"/>
<circle cx="448.3" cy="746.9" r="19.7"/>
<circle cx="458.3" cy="703.7" r="19.7"/>
<circle cx="468.1" cy="661.1" r="19.7"/>
<circle cx="476.8" cy="618.2" r="19.7"/>
<circle cx="484.8" cy="578.8" r="19.7"/>
<circle cx="492.3" cy="539.7" r="19.7"/>
<circle cx="497.8" cy="504.0" r="19.7"/>
<circle cx="503.5" cy="469.0" r="19.7"/>
<circle cx="508.7" cy="448.8" r="19.7"/>
<circle cx="514.5" cy="432.5" r="19.7"/>
<circle cx="518.7" cy="416.3" r="19.7"/>
<circle cx="523.5" cy="398.8" r="19.7"/>
<circle cx="527.7" cy="382.6" r="19.7"/>
<circle cx="531.8" cy="363.2" r="19.7"/>
<circle cx="535.5" cy="343.2" r="19.7"/>
<circle cx="538.7" cy="322.6" r="19.7"/>
<circle cx="541.7" cy="303.2" r="19.7"/>
<circle cx="544.8" cy="284.4" r="19.7"/>
<circle cx="548.5" cy="266.3" r="19.7"/>
<circle cx="551.7" cy="250.0" r="19.7"/>
<circle cx="554.7" cy="232.7" r="19.7"/>
<circle cx="557.5" cy="216.8" r="19.7"/>
<circle cx="560.1" cy="203.7" r="19.7"/>
<circle cx="562.7" cy="193.6" r="19.7"/>
<circle cx="565.1" cy="184.9" r="19.7"/>
<circle cx="567.5" cy="177.0" r="19.7"/>
<circle cx="569.8" cy="169.5" r="19.7"/>
<circle cx="572.1" cy="161.9" r="19.7"/>
<circle cx="574.2" cy="154.4" r="19.7"/>
<circle cx="576.3" cy="147.3" r="19.7"/>
<circle cx="578.4" cy="140.6" r="19.7"/>
<circle cx="580.4" cy="134.5" r="19.7"/>
<circle cx="582.3" cy="129.0" r="19.7"/>
<circle cx="584.2" cy="124.0" r="19.7"/>
<circle cx="586.0" cy="119.3" r="19.7"/>
<circle cx="587.8" cy="114.9" r="19.7"/>
<circle cx="589.6" cy="111.0" r="19.7"/>
<circle cx="591.3" cy="107.4" r="19.7"/>
<circle cx="592.9" cy="104.2" r="19.7"/>
<circle cx="594.6" cy="101.2" r="19.7"/>
<circle cx="596.2" cy="98.4" r="19.7"/>
<circle cx="597.7" cy="95.8" r="19.7"/>
<circle cx="599.3" cy="93.4" r="19.7"/>
<circle cx="600.8" cy="91.2" r="19.7"/>
<circle cx="602.2" cy="89.3" r="19.7"/>
<circle cx="603.7" cy="87.5" r="19.7"/>
<circle cx="605.1" cy="86.0" r="19.7"/>
<circle cx="606.5" cy="84.7" r="19.7"/>
<circle cx="607.8" cy="83.5" r="19.7"/>
<circle cx="609.1" cy="82.3" r="19.7"/>
<circle cx="610.4" cy="81.2" r="19.7"/>
<circle cx="611.7" cy="80.2" r="19.7"/>
<circle cx="613.0" cy="79.2" r="19.7"/>
<circle cx="614.2" cy="78.4" r="19.7"/>
<circle cx="615.5" cy="77.5" r="19.7"/>
<circle cx="616.7" cy="76.8" r="19.7"/>
<circle cx="617.8" cy="76.1" r="19.7"/>
<circle cx="619.0" cy="75.5" r="19.7"/>
<circle cx="620.1" cy="74.9" r="19.7"/>
<circle cx="621.3" cy="74.3" r="19.7"/>
<circle cx="622.4" cy="73.8" r="19.7"/>
<path d="M622.4,73.8 625.4,72.6 628.4,71.4 631.4,70.5 634.4,69.7 637.4,69.2 640.4,68.8 643.4,68.5 646.4,68.2 649.4,67.9 652.4,67.7 655.4,67.5 658.4,67.3 661.4,67.1 664.4,67.0 667.4,66.8 670.4,66.7 673.4,66.5 676.4,66.4 679.4,66.3 682.4,66.1 685.4,66.0 688.4,65.9 691.4,65.8 694.4,65.7 697.4,65.6 700.4,65.5 703.4,65.4 706.4,65.3 709.4,65.2 712.4,65.1 715.4,65.0 718.4,64.9 721.4,64.8 724.4,64.8 727.4,64.7 730.4,64.6 733.4,64.5 736.4,64.4 739.4,64.4 742.4,64.3 745.4,64.2 748.4,64.1 751.4,64.1 754.4,64.0 757.4,63.9 760.4,63.9 763.4,63.8 766.4,63.7 769.4,63.6 772.4,63.6 775.4,63.5 778.4,63.4 781.4,63.3 784.4,63.2 787.4,63.1 790.4,63.0 793.4,62.9 796.4,62.8 799.4,62.7 802.4,62.5 805.4,62.4 808.4,62.2 811.4,62.0 814.4,61.8 817.4,61.6 820.4,61.4 823.4,61.2 826.4,61.1 829.4,60.9 832.4,60.8 835.4,60.7 838.4,60.6 841.4,60.6 844.4,60.5 847.4,60.5 850.4,60.5 853.4,60.4 856.4,60.4 859.4,60.4 862.4,60.4 862.7,60.4" fill="none" stroke="#800000" stroke-width="39.4" stroke-linecap="round" stroke-linejoin="round"/>
</g>
</g>
<filter id="th" filterUnits="userSpaceOnUse" x="0" y="0" width="1283" height="1231" color-interpolation-filters="sRGB"><feComponentTransfer><feFuncA type="discrete" tableValues="0 1"/></feComponentTransfer></filter>
<rect x="777.0" y="661.5" width="422.2" height="274" fill="#fff" stroke="#000" stroke-width="5.3"/>
<circle cx="877.6" cy="715.2" r="19.7" fill="#00009c"/>
<circle cx="877.6" cy="774.0" r="19.7" fill="#008080"/>
<circle cx="877.6" cy="832.9" r="19.7" fill="#ff8000"/>
<circle cx="877.6" cy="892.0" r="19.7" fill="#800000"/>
<g filter="url(#th)">
<text x="943.70" y="732.20" font-size="48.0" letter-spacing="-0.829" ><tspan font-style="italic">n</tspan>-butane</text>
<text x="942.90" y="791.00" font-size="48.0" letter-spacing="-0.911" ><tspan font-style="italic">iso</tspan>-butane</text>
<text x="949.00" y="849.90" font-size="48.0" letter-spacing="-1.586" ><tspan font-style="italic">1</tspan>-butene</text>
<text x="942.90" y="909.00" font-size="48.0" letter-spacing="-0.911" ><tspan font-style="italic">iso</tspan>-butene</text>
<text x="131.3" y="1029.4" font-size="74.5">0.0</text>
<text x="131.3" y="839.2" font-size="74.5">0.2</text>
<text x="131.3" y="649.0" font-size="74.5">0.4</text>
<text x="131.3" y="458.8" font-size="74.5">0.6</text>
<text x="131.3" y="268.6" font-size="74.5">0.8</text>
<text x="131.3" y="78.4" font-size="74.5">1.0</text>
<text transform="translate(229.50,1105.70)" font-size="74.5" >0.01</text>
<text transform="translate(417.00,1105.70)" font-size="74.5" >0.1</text>
<text transform="translate(618.00,1105.70)" font-size="74.5" >1</text>
<text transform="translate(763.20,1105.70)" font-size="74.5" >10</text>
<text transform="translate(909.40,1105.70)" font-size="74.5" >100</text>
<text transform="translate(1055.50,1105.70)" font-size="74.5" >1000</text>
<text transform="translate(574.01,1194.00) scale(0.9904,1)" font-size="74.5" >time</text>
<text transform="translate(733.26,1194.00) scale(0.9800,1)" font-size="74.5" font-style="italic">t</text>
<text transform="translate(772.00,1194.00) scale(0.9667,1)" font-size="74.5" >/</text>
<text transform="translate(810.74,1194.00) scale(0.9918,1)" font-size="74.5" >min</text>
<text transform="translate(79.30,907.91) rotate(-90) scale(0.9819,1)" font-size="74.5" >relative</text>
<text transform="translate(79.30,651.77) rotate(-90) scale(0.9930,1)" font-size="74.5" >uptake</text>
<text transform="translate(80.30,400.30) rotate(-90) scale(0.8589,1)" font-size="76.5" font-family="'Liberation Serif','DejaVu Serif',serif">&#936;</text>
<text transform="translate(79.30,322.70) rotate(-90) scale(0.9143,1)" font-size="74.5" >/</text>
<text transform="translate(79.30,289.72) rotate(-90) scale(1.0056,1)" font-size="74.5" >-</text>
<text x="301.20" y="153.70" font-size="45.6" letter-spacing="-0.933" font-style="italic">Cu-IHMe-pw</text>
<text transform="translate(305.89,212.30) scale(1.0026,1)" font-size="45.6" >298 K</text>
<text transform="translate(306.57,274.80) scale(1.0133,1)" font-size="45.6" >0&#8211;20</text>
<text transform="translate(421.88,274.80) scale(1.0053,1)" font-size="45.6" >kPa</text>
</g>
</svg>
</body></html>
